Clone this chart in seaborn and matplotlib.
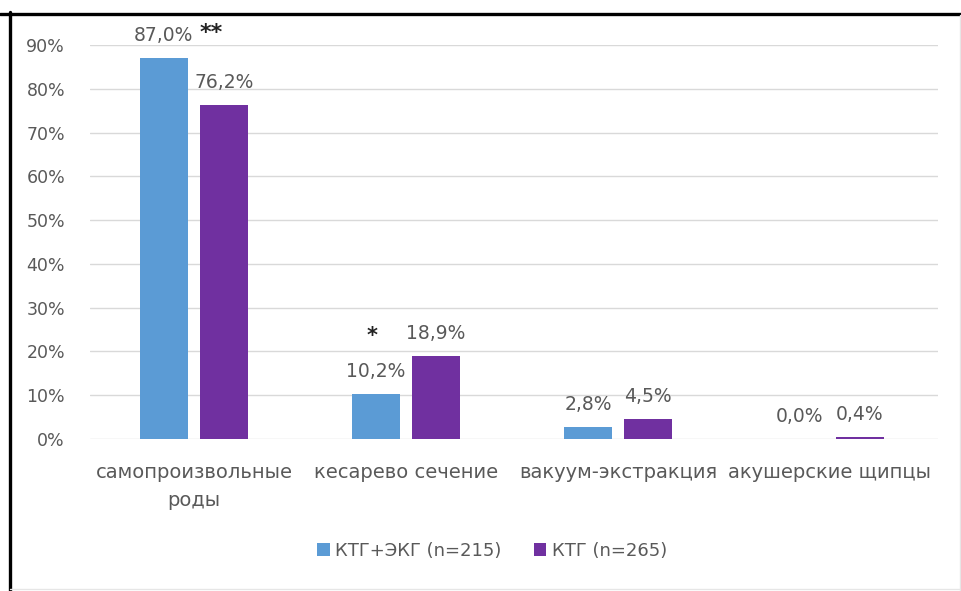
import matplotlib
matplotlib.use("Agg")
import matplotlib.pyplot as plt
import matplotlib.lines as mlines
import matplotlib.patches as mpatches
import seaborn as sns
import pandas as pd

# Birth outcome categories and group shares (%)
categories = ["самопроизвольные\nроды", "кесарево сечение", "вакуум-экстракция", "акушерские щипцы"]
groups = ["КТГ+ЭКГ (n=215)", "КТГ (n=265)"]
ktg_ecg = [87.0, 10.2, 2.8, 0.0]
ktg = [76.2, 18.9, 4.5, 0.4]
y_ticks = [0, 10, 20, 30, 40, 50, 60, 70, 80, 90]

colors = ["#5B9BD5", "#7030A0"]
text_gray = "#595959"

df = pd.DataFrame({
    "category": categories * 2,
    "share": ktg_ecg + ktg,
    "group": [groups[0]] * len(categories) + [groups[1]] * len(categories),
})

sns.set_theme(style="white")
plt.rcParams["font.family"] = ["DejaVu Sans"]

fig = plt.figure(figsize=(9.62, 5.91), dpi=100)
W, H = 962, 591
ax = fig.add_axes([90 / W, 1 - 439 / H, (938 - 90) / W, (439 - 45) / H])

sns.barplot(data=df, x="category", y="share", hue="group", order=categories,
            hue_order=groups, palette=colors, width=0.566, gap=0.2,
            saturation=1, legend=False, linewidth=0, edgecolor="none", ax=ax)

ax.set_xlim(-0.49, 3.51)
ax.set_ylim(0, 90)
ax.set_yticks(y_ticks)
ax.set_yticklabels([f"{t}%" for t in y_ticks])
ax.set_xlabel("")
ax.set_ylabel("")
ax.grid(axis="y", color="#D9D9D9", linewidth=1)
ax.grid(axis="x", visible=False)
ax.set_axisbelow(True)
for s in ax.spines.values():
    s.set_visible(False)
ax.tick_params(axis="y", length=0, pad=18, labelsize=12.5, labelcolor=text_gray)
ax.tick_params(axis="x", length=0, pad=17, labelsize=14, labelcolor=text_gray)
for lbl in ax.get_xticklabels():
    lbl.set_linespacing(1.65)

# Value labels above each bar
for cont, vals in zip(ax.containers, [ktg_ecg, ktg]):
    labels = [f"{v:.1f}%".replace(".", ",") for v in vals]
    ax.bar_label(cont, labels=labels, padding=9.5, fontsize=13.5, color=text_gray)

# Significance marks
p0 = ax.containers[0].patches[0]
ax.annotate("**", xy=(p0.get_x() + p0.get_width() / 2, ktg_ecg[0]),
            xytext=(34, 18), textcoords="offset points",
            ha="center", va="center", fontsize=16, fontweight="bold", color="#222222")
p1 = ax.containers[0].patches[1]
ax.annotate("*", xy=(p1.get_x() + p1.get_width() / 2, ktg_ecg[1]),
            xytext=(-3, 42), textcoords="offset points",
            ha="center", va="center", fontsize=15, fontweight="bold", color="#222222")

# Legend
handles = [mpatches.Patch(facecolor=c, edgecolor="none") for c in colors]
fig.legend(handles, groups, loc="center", bbox_to_anchor=(492 / W, 1 - 551 / H),
           ncol=2, frameon=False, fontsize=13, labelcolor=text_gray,
           handlelength=0.7, handleheight=0.7, handletextpad=0.3,
           columnspacing=1.8)

# Frame around the chart
fig.add_artist(mlines.Line2D([0, 1], [1 - 13.5 / H, 1 - 13.5 / H], color="black", linewidth=2.4))
fig.add_artist(mlines.Line2D([9.5 / W, 9.5 / W], [0, 1 - 12 / H], color="black", linewidth=2.4))
fig.add_artist(mlines.Line2D([960 / W, 960 / W], [0, 1 - 15 / H], color="#E6E6E6", linewidth=1))
fig.add_artist(mlines.Line2D([10 / W, 960 / W], [2.5 / H, 2.5 / H], color="#E6E6E6", linewidth=1))

fig.savefig("out.png", dpi=100)
